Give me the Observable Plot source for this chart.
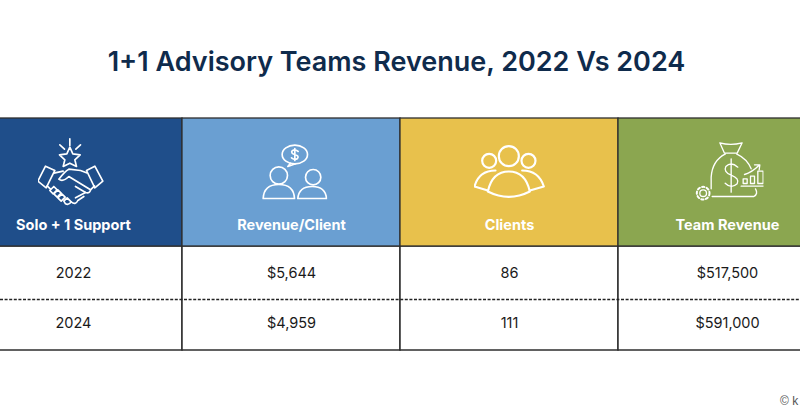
<!DOCTYPE html>
<html>
<head>
<meta charset="utf-8">
<script src="https://cdn.jsdelivr.net/npm/d3@7"></script>
<script src="https://cdn.jsdelivr.net/npm/@observablehq/plot@0.6"></script>
<style>
  html, body { margin: 0; padding: 0; background: #fff; width: 800px; height: 419px; overflow: hidden; position: relative; }
  #title { position: absolute; left: 0; top: 44px; width: 793px; text-align: center; font: 600 27px/36px Inter, sans-serif; color: #0f2b4c; letter-spacing: 0px; white-space: nowrap; }
  #chart { position: absolute; left: 0; top: 116px; }
  #credit { position: absolute; left: 780px; top: 394px; font: 12px/14px "Liberation Sans", sans-serif; color: #555; white-space: nowrap; }
</style>
</head>
<body>
<div id="title">1+1 Advisory Teams Revenue, 2022 Vs 2024</div>
<div id="chart"></div>
<div id="credit">© k</div>
<script>
const columns = ["Solo + 1 Support", "Revenue/Client", "Clients", "Team Revenue"];
const headerColors = ["#1f4e8a", "#6a9fd2", "#e8c14c", "#8ba650"];
const years = ["2022", "2024"];
const revenuePerClient = [5644, 4959];
const clients = [86, 111];
const teamRevenue = [517500, 591000];

const money = d3.format("$,");
const rowPositions = [1.5, 2.47];

const iconStyle = 'fill="none" stroke="#fff" stroke-width="5" stroke-linecap="round" stroke-linejoin="round"';
const wrap = (vb, body) => "data:image/svg+xml;utf8," + encodeURIComponent(
  `<svg xmlns="http://www.w3.org/2000/svg" width="72" height="72" viewBox="${vb} 216 216"><g ${iconStyle}>${body}</g></svg>`);

const iconShapes = [
  wrap("111 75", `
    <path d="M208 85V105M178 103L192 116M240 103L226 116"/>
    <path d="M208 110L217 130L239 133L223 148L228 168L208 158L188 168L193 148L177 133L199 130Z"/>
    <path d="M135 167L163 180L137 232L112 212Z"/>
    <path d="M283 167L258 180L283 232L307 212Z"/>
    <path d="M160 188L188 182M258 187L240 180L205 176Q193 182 175 206Q187 216 205 198L270 238Q268 250 255 246L225 228"/>
    <path d="M140 226L150 236M270 238L282 226"/>
    <path d="M148 240L160 228L170 238L158 250ZM160 250L172 238L182 248L170 260ZM172 262L184 250L194 260L182 272ZM190 272L200 262L212 274Q205 285 195 280Z"/>
    <path d="M212 274Q225 285 232 270M232 270L250 258M225 262L255 246"/>`),
  wrap("765 75", `
    <ellipse cx="883" cy="132" rx="38" ry="28"/>
    <path d="M870 158L862 168L885 160"/>
    <path d="M893 123q-10 -8 -18 -2q-5 7 8 11q14 5 8 12q-8 6 -18 -2M883 114v36"/>
    <circle cx="835" cy="195" r="26"/>
    <circle cx="938" cy="200" r="23"/>
    <path d="M788 264Q790 222 835 222Q880 222 882 264Z"/>
    <path d="M892 264Q895 228 935 228Q975 228 978 264Z"/>`),
  wrap("219 75", `
    <g stroke-width="6.5">
    <circle cx="325" cy="137" r="30"/>
    <circle cx="266" cy="151" r="21"/>
    <circle cx="384" cy="151" r="21"/>
    <path d="M262 243Q275 183 325 183Q375 183 388 243Q325 275 262 243Z"/>
    <path d="M285 180Q235 180 222 228L262 240M365 180Q415 180 430 228L388 240"/>
    </g>`),
  wrap("873 75", `
    <g stroke-width="4">
    <path d="M958 97Q990 106 1025 97L1010 128L972 128Z"/>
    <path d="M975 130Q935 150 932 200L932 235M1008 130Q1040 145 1052 175"/>
    <path d="M935 258L1060 258Q1074 250 1065 235"/>
    <path d="M1012 170q-20 -18 -36 -2q-8 16 16 26q26 10 18 26q-18 16 -36 -2M992 145v100"/>
    <rect x="1028" y="205" width="12" height="14"/>
    <rect x="1050" y="197" width="12" height="22"/>
    <rect x="1072" y="182" width="16" height="37"/>
    <path d="M1022 227H1093M1032 192Q1055 185 1075 165M1062 163L1078 163L1076 178"/>
    <circle cx="908" cy="248" r="10"/>
    <circle cx="908" cy="248" r="19" stroke-width="6" stroke-dasharray="7 7"/>
    </g>`)
];

const headers = columns.map((name, i) => ({name, color: headerColors[i], icon: iconShapes[i]}));
const cells = years.flatMap((year, i) => [
  {column: columns[0], row: rowPositions[i], label: year},
  {column: columns[1], row: rowPositions[i], label: money(revenuePerClient[i])},
  {column: columns[2], row: rowPositions[i], label: String(clients[i])},
  {column: columns[3], row: rowPositions[i], label: money(teamRevenue[i])}
]);

const line = "#2e2e2e";
const plot = Plot.plot({
  width: 800,
  height: 236,
  margin: 0,
  style: {background: "transparent", overflow: "visible"},
  x: {type: "band", domain: columns, range: [-36, 836], padding: 0, round: false, axis: null},
  y: {type: "linear", domain: [0, 1, 2, 3], range: [2, 130, 183, 234], axis: null},
  marks: [
    Plot.barY(columns, {x: d => d, y1: 1, y2: 3, fill: "#fff", stroke: line, strokeWidth: 1.5}),
    Plot.ruleY([2], {stroke: "#222", strokeWidth: 1.3, strokeDasharray: "3 1.6"}),
    Plot.barY(headers, {x: "name", y1: 0, y2: 1, fill: "color", stroke: line, strokeWidth: 1.3}),
    Plot.image(headers, {x: "name", y: 0.414, src: "icon", width: 72, height: 72}),
    Plot.text(headers, {x: "name", y: 0.835, text: "name", fill: "#fff", fontSize: 14.5, fontWeight: 700, fontFamily: "Inter, sans-serif"}),
    Plot.text(cells, {x: "column", y: "row", text: "label", fill: "#1a1a1a", fontSize: 14.5, fontFamily: "Inter, sans-serif"})
  ]
});
document.getElementById("chart").append(plot);
</script>
</body>
</html>
